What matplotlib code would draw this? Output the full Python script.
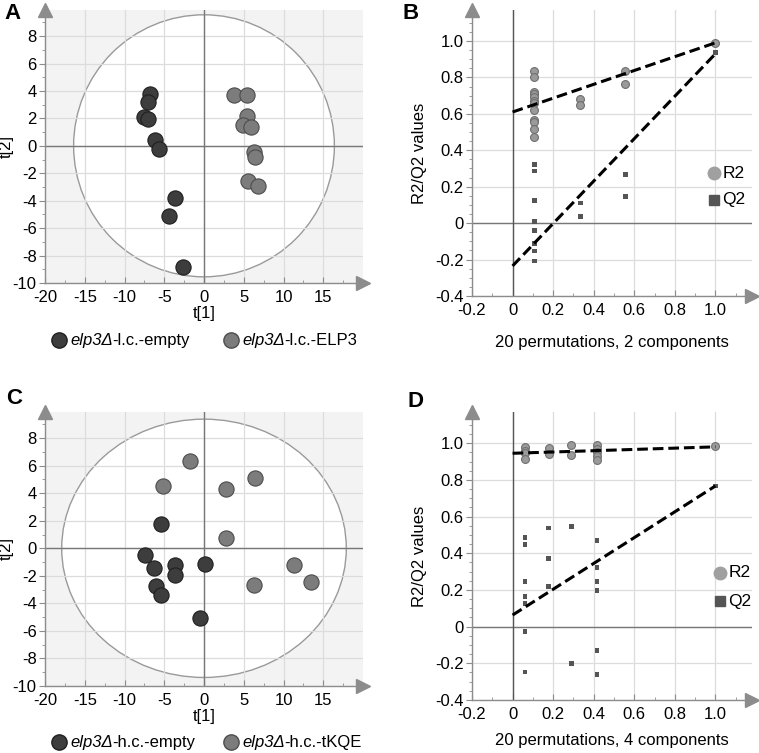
import numpy as np
import matplotlib
matplotlib.use("Agg")
import matplotlib.pyplot as plt
from matplotlib.patches import Ellipse
from matplotlib.lines import Line2D

plt.rcParams["font.family"] = ["Liberation Sans", "DejaVu Sans"]
plt.rcParams["axes.unicode_minus"] = False

# ── Data: score plots (t[1], t[2]) ──────────────────────
a_empty_t1 = [-6.8, -7.0, -7.5, -7.0, -6.2, -5.65, -3.7, -4.35, -2.6]
a_empty_t2 = [3.76, 3.2, 2.09, 1.97, 0.44, -0.22, -3.79, -5.15, -8.8]
a_elp3_t1 = [3.77, 5.36, 5.36, 4.9, 5.9, 6.3, 6.45, 5.56, 6.78]
a_elp3_t2 = [3.67, 3.67, 2.2, 1.55, 1.38, -0.46, -0.83, -2.55, -2.9]
a_ellipse = (16.4, 9.55)

c_empty_t1 = [-5.44, -7.36, -6.28, -3.68, -3.68, -6.1, -5.44, 0.17, -0.46]
c_empty_t2 = [1.77, -0.51, -1.43, -1.23, -1.91, -2.76, -3.41, -1.14, -5.06]
c_tkqe_t1 = [-1.8, -5.15, 2.72, 6.4, 2.72, 11.38, 13.4, 6.23]
c_tkqe_t2 = [6.32, 4.55, 4.29, 5.1, 0.77, -1.23, -2.45, -2.64]
c_ellipse = (17.9, 9.38)

# ── Data: permutation tests ─────────────────────────────
b_r2_x = [0.107] * 12 + [0.333] * 2 + [0.555] * 2 + [1.0]
b_r2_y = [0.834, 0.80, 0.72, 0.707, 0.694, 0.67, 0.66, 0.62, 0.566, 0.557, 0.515, 0.475,
          0.683, 0.648, 0.834, 0.765, 0.989]
b_q2_x = [0.107] * 8 + [0.333] * 2 + [0.555] * 2 + [1.0]
b_q2_y = [0.322, 0.286, 0.124, 0.011, -0.04, -0.113, -0.153, -0.208,
          0.111, 0.036, 0.266, 0.146, 0.938]
b_r2_line = [0.61, 0.99]   # value at x=0, x=1
b_q2_line = [-0.235, 0.93]

d_r2_x = [0.061] * 4 + [0.179] * 2 + [0.29] * 2 + [0.416] * 5 + [1.0]
d_r2_y = [0.978, 0.96, 0.944, 0.915, 0.976, 0.942, 0.989, 0.933,
          0.989, 0.969, 0.951, 0.931, 0.909, 0.982]
d_q2_x = [0.061] * 7 + [0.179] * 3 + [0.29] * 2 + [0.416] * 6 + [1.0]
d_q2_y = [0.484, 0.447, 0.245, 0.164, 0.124, -0.027, -0.247,
          0.538, 0.371, 0.22, 0.545, -0.2,
          0.469, 0.324, 0.247, 0.198, -0.129, -0.262, 0.767]
d_r2_line = [0.945, 0.98]
d_q2_line = [0.063, 0.767]

DARK, DARK_EDGE = "#3d3d3d", "#1f1f1f"
LIGHT, LIGHT_EDGE = "#7c7c7c", "#4d4d4d"
AX_GRAY = "#8c8c8c"
GRID = "#dcdcdc"
FS = 12

W, H = 759, 753
fig = plt.figure(figsize=(W / 100, H / 100), dpi=100)


def px_axes(left, top, right, bottom):
    return fig.add_axes([left / W, 1 - bottom / H, (right - left) / W, (bottom - top) / H])


def style_axes(ax):
    for s in ("top", "right"):
        ax.spines[s].set_visible(False)
    for s in ("left", "bottom"):
        ax.spines[s].set_color(AX_GRAY)
        ax.spines[s].set_linewidth(1.0)
    ax.tick_params(axis="y", which="both", direction="out", color=AX_GRAY, labelsize=FS, pad=2)
    ax.tick_params(axis="x", which="both", direction="in", color=AX_GRAY, labelsize=FS, pad=5)
    ax.tick_params(which="major", length=4)
    ax.tick_params(which="minor", length=2.5)
    # arrow heads at the axis ends
    ax.plot(1.0, 0, ">", transform=ax.transAxes, color=AX_GRAY, ms=10, clip_on=False, zorder=5)
    ax.plot(0, 1.0, "^", transform=ax.transAxes, color=AX_GRAY, ms=10, clip_on=False, zorder=5)


def score_plot(ax, e_x, e_y, g_x, g_y, ell):
    ax.set_facecolor("#f3f3f3")
    ax.set_xlim(-20, 20)
    ax.set_ylim(-10, 9.9)
    ax.add_patch(Ellipse((0, 0), 2 * ell[0], 2 * ell[1], facecolor="white",
                         edgecolor="#9a9a9a", lw=1.0, zorder=0.2))
    ax.set_axisbelow(True)
    ax.grid(True, color=GRID, lw=0.9)
    ax.axhline(0, color="#777777", lw=1.0, zorder=1)
    ax.axvline(0, color="#777777", lw=1.0, zorder=1)
    ax.set_xticks(np.arange(-20, 16, 5))
    ax.set_yticks(np.arange(-10, 9, 2))
    ax.set_xticks(np.arange(-20, 20, 2.5), minor=True)
    ax.set_yticks(np.arange(-10, 9.9, 1), minor=True)
    ax.grid(False, which="minor")
    ax.scatter(e_x, e_y, s=120, c=DARK, edgecolors=DARK_EDGE, linewidths=0.8, zorder=3)
    ax.scatter(g_x, g_y, s=120, c=LIGHT, edgecolors=LIGHT_EDGE, linewidths=0.8, zorder=3)
    ax.set_xlabel("t[1]", fontsize=FS, labelpad=1)
    ax.set_ylabel("t[2]", fontsize=FS, labelpad=-1)
    style_axes(ax)


def fmt(v):
    return "0" if abs(v) < 1e-9 else f"{v:.1f}"


def perm_plot(ax, r2x, r2y, q2x, q2y, r2l, q2l, xlabel, leg_x, leg_y, xpad):
    ax.set_xlim(-0.2, 1.18)
    ax.set_ylim(-0.4, 1.17)
    xt = np.round(np.arange(-0.2, 1.01, 0.2), 1)
    yt = np.round(np.arange(-0.4, 1.01, 0.2), 1)
    ax.set_xticks(xt)
    ax.set_xticklabels([fmt(v) for v in xt])
    ax.set_yticks(yt)
    ax.set_yticklabels([fmt(v) for v in yt])
    ax.set_xticks(np.arange(-0.2, 1.15, 0.1), minor=True)
    ax.set_yticks(np.arange(-0.4, 1.15, 0.05), minor=True)
    ax.set_axisbelow(True)
    ax.grid(True, which="major", color=GRID, lw=0.9)
    ax.axhline(0, color="#777777", lw=1.0, zorder=1)
    ax.axvline(0, color="#555555", lw=1.0, zorder=1)
    ax.plot([0, 1], r2l, color="black", lw=2.2, ls=(0, (3.5, 1.6)), zorder=4)
    ax.plot([0, 1], q2l, color="black", lw=2.2, ls=(0, (3.5, 1.6)), zorder=4)
    ax.scatter(r2x, r2y, s=32, marker="o", c="#9a9a9a", edgecolors="#6f6f6f",
               linewidths=0.8, zorder=3)
    ax.scatter(q2x, q2y, s=12, marker="s", c="#555555", edgecolors="none", zorder=3)
    ax.set_xlabel(xlabel, fontsize=FS, labelpad=xpad)
    ax.set_ylabel("R2/Q2 values", fontsize=FS, labelpad=6)
    # inside legend
    ax.plot(leg_x, leg_y[0], "o", ms=9, color="#a0a0a0", transform=ax.transAxes, zorder=6)
    ax.plot(leg_x, leg_y[1], "s", ms=7.5, color="#555555", transform=ax.transAxes, zorder=6)
    ax.text(leg_x + 0.03, leg_y[0], "R2", transform=ax.transAxes, fontsize=FS + 0.5,
            va="center", ha="left")
    ax.text(leg_x + 0.03, leg_y[1], "Q2", transform=ax.transAxes, fontsize=FS + 0.5,
            va="center", ha="left")
    style_axes(ax)


renderer = fig.canvas.get_renderer()


def bottom_legend(y_px, labels):
    for (mx, tx), (ital, rest), col, ec in zip([(59, 70), (231, 242)], labels,
                                               [DARK, LIGHT], [DARK_EDGE, LIGHT_EDGE]):
        fig.add_artist(Line2D([mx / W], [1 - y_px / H], marker="o", ms=11, color=col,
                              markeredgecolor=ec, transform=fig.transFigure, lw=0))
        t = fig.text(tx / W, 1 - y_px / H, ital, fontsize=FS, style="italic",
                     va="center", ha="left")
        ext = t.get_window_extent(renderer)
        fig.text(ext.x1 / W, 1 - y_px / H, rest, fontsize=FS, va="center", ha="left")


# Panel A
axA = px_axes(45, 10, 363, 283)
score_plot(axA, a_empty_t1, a_empty_t2, a_elp3_t1, a_elp3_t2, a_ellipse)
bottom_legend(340, [("elp3Δ", "-l.c.-empty"), ("elp3Δ", "-l.c.-ELP3")])

# Panel B
axB = px_axes(472, 10, 752, 296)
perm_plot(axB, b_r2_x, b_r2_y, b_q2_x, b_q2_y, b_r2_line, b_q2_line,
          "20 permutations, 2 components", 0.864, (0.43, 0.336), 12)

# Panel C
axC = px_axes(45, 412, 363, 686)
score_plot(axC, c_empty_t1, c_empty_t2, c_tkqe_t1, c_tkqe_t2, c_ellipse)
bottom_legend(742, [("elp3Δ", "-h.c.-empty"), ("elp3Δ", "-h.c.-tKQE")])

# Panel D
axD = px_axes(472, 412, 752, 700)
perm_plot(axD, d_r2_x, d_r2_y, d_q2_x, d_q2_y, d_r2_line, d_q2_line,
          "20 permutations, 4 components", 0.885, (0.441, 0.343), 8)

for lab, x, y in [("A", 4, 3), ("B", 403, 3), ("C", 6, 388), ("D", 407, 391)]:
    fig.text(x / W, 1 - y / H, lab, fontsize=16, fontweight="bold", va="top", ha="left")

fig.savefig("out.png", dpi=100)
plt.close(fig)
